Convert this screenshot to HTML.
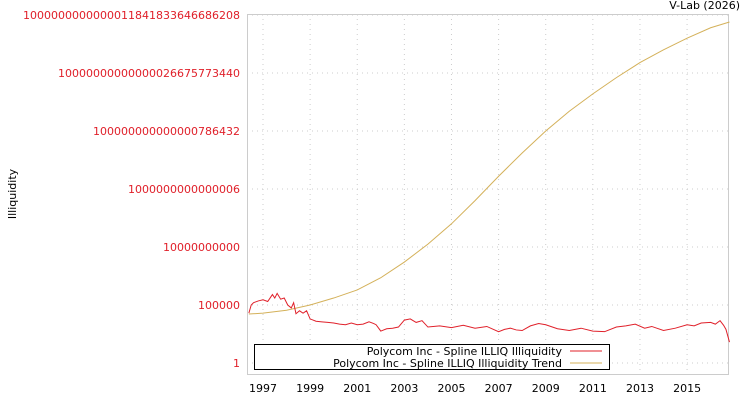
<!DOCTYPE html>
<html><head><meta charset="utf-8"><style>
body{margin:0;background:#fff;font-family:"DejaVu Sans","Liberation Sans",sans-serif}
svg text{font-family:"DejaVu Sans","Liberation Sans",sans-serif;font-size:11px}
</style></head><body>
<svg id="chart" width="750" height="400">
<text x="740" y="9" text-anchor="end">V-Lab (2026)</text>
<text transform="translate(16,194) rotate(-90)" text-anchor="middle">Illiquidity</text>
<g id="grid"></g><g id="axes"></g><g id="series"></g>
<g>
<rect x="254.5" y="344.5" width="355" height="25" fill="#fff" stroke="#000"/>
<text x="562" y="355" text-anchor="end">Polycom Inc - Spline ILLIQ Illiquidity</text>
<line x1="570" y1="351" x2="602" y2="351" stroke="#e0202a"/>
<text x="562" y="367" text-anchor="end">Polycom Inc - Spline ILLIQ Illiquidity Trend</text>
<line x1="570" y1="363" x2="602" y2="363" stroke="#d4b15a"/>
</g>
</svg>
<script>
const xTicks=[1997,1999,2001,2003,2005,2007,2009,2011,2013,2015];
const yTickExp=[0,5,10,15,20,25,30];
const yTickLabels=["1","100000","10000000000","1000000000000006","100000000000000786432","10000000000000026675773440","1000000000000011841833646686208"];
const illiqYears=[1996.4,1996.5,1996.6,1996.8,1997,1997.2,1997.4,1997.5,1997.6,1997.75,1997.9,1998.05,1998.2,1998.3,1998.4,1998.55,1998.7,1998.85,1999,1999.25,1999.5,1999.75,2000,2000.25,2000.5,2000.75,2001,2001.25,2001.5,2001.7,2001.8,2002,2002.25,2002.5,2002.75,2003,2003.25,2003.5,2003.75,2004,2004.5,2005,2005.5,2006,2006.5,2007,2007.25,2007.5,2007.75,2008,2008.35,2008.7,2009,2009.5,2010,2010.5,2011,2011.5,2012,2012.4,2012.8,2013.2,2013.5,2014,2014.5,2015,2015.3,2015.6,2016,2016.2,2016.4,2016.55,2016.65,2016.8];
const illiqLog=[4.3,5.0,5.2,5.35,5.45,5.3,5.9,5.6,6.0,5.5,5.6,5.0,4.75,5.2,4.25,4.5,4.3,4.5,3.8,3.6,3.55,3.5,3.45,3.35,3.3,3.45,3.3,3.35,3.55,3.4,3.3,2.75,2.95,3.0,3.1,3.7,3.8,3.5,3.65,3.1,3.2,3.05,3.25,3.0,3.15,2.7,2.9,3.0,2.85,2.8,3.2,3.4,3.3,2.95,2.8,3.0,2.75,2.7,3.1,3.2,3.35,3.0,3.15,2.8,3.0,3.3,3.2,3.45,3.5,3.35,3.65,3.25,2.9,1.8];
const trendYears=[1996.4,1997,1998,1999,2000,2001,2002,2003,2004,2005,2006,2007,2008,2009,2010,2011,2012,2013,2014,2015,2016,2016.8];
const trendLog=[4.22,4.3,4.55,5.0,5.6,6.3,7.35,8.7,10.25,12.0,14.0,16.1,18.1,20.0,21.7,23.2,24.6,25.9,27.0,28.0,28.9,29.4];
const X0=247,X1=728,Y0=14,Y1=374;
const xs=y=>263+(y-1997)*23.56;
const ys=e=>363-e*11.6;
const ns="http://www.w3.org/2000/svg";
function mk(t,a,p){const e=document.createElementNS(ns,t);for(const k in a)e.setAttribute(k,a[k]);p.appendChild(e);return e;}
const grid=document.getElementById('grid'),axes=document.getElementById('axes'),ser=document.getElementById('series');
xTicks.forEach(t=>{
 const g=mk('line',{x1:xs(t),x2:xs(t),y1:Y0,y2:Y1,stroke:'#ccc','stroke-dasharray':'1,4'},grid);
 
 
 const l=mk('text',{x:xs(t),y:392,'text-anchor':'middle'},axes);l.textContent=t;
 
 
});
yTickExp.forEach((e,i)=>{
 const g=mk('line',{x1:X0,x2:X1,y1:ys(e),y2:ys(e),stroke:'#ccc','stroke-dasharray':'1,4'},grid);
 
 
 const l=mk('text',{x:240,y:ys(e)+4,'text-anchor':'end',fill:'#e0202a'},axes);l.textContent=yTickLabels[i];
 
 
});
const fr=mk('rect',{x:X0+.5,y:Y0+.5,width:X1-X0,height:Y1-Y0,fill:'none',stroke:'#ccc'},axes);


const tp=mk('polyline',{points:trendYears.map((y,i)=>xs(y)+','+ys(trendLog[i])).join(' '),fill:'none',stroke:'#d4b15a','stroke-width':1},ser);


const ip=mk('polyline',{points:illiqYears.map((y,i)=>xs(y)+','+ys(illiqLog[i])).join(' '),fill:'none',stroke:'#e0202a','stroke-width':1},ser);


</script>
</body></html>
